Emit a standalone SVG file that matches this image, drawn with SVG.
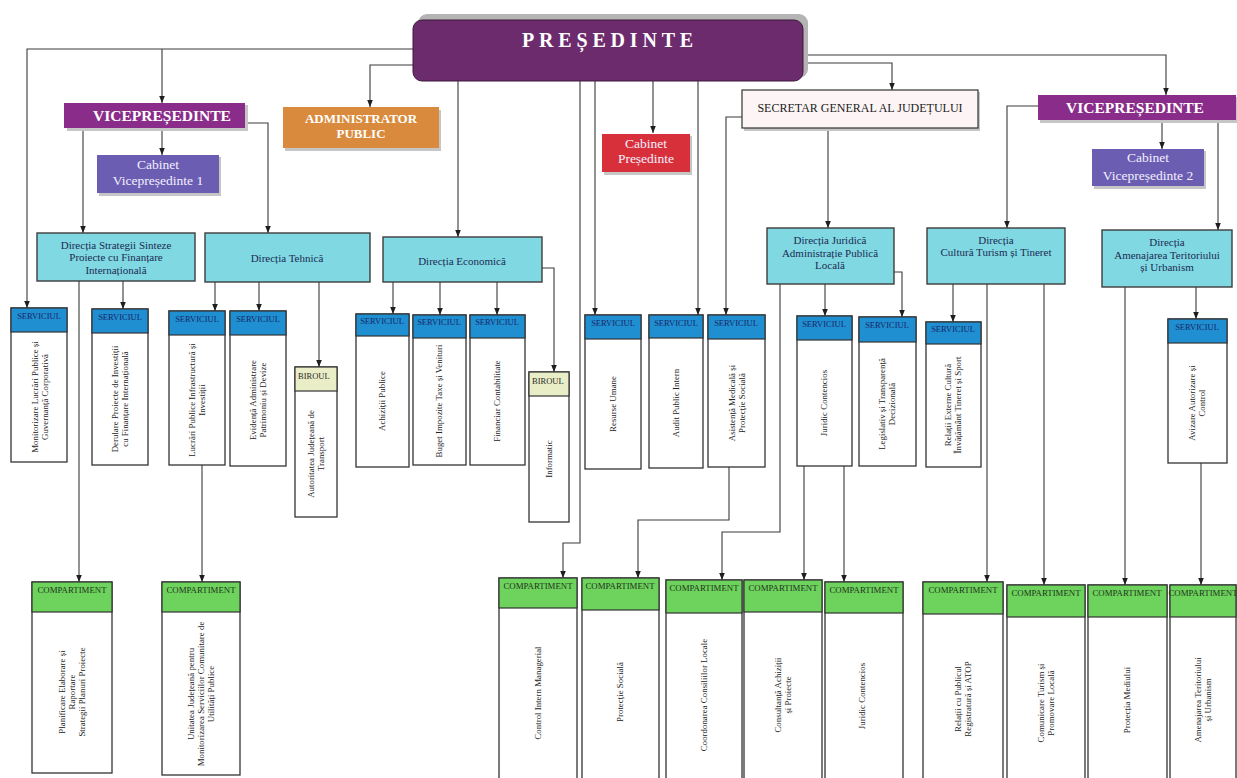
<svg xmlns="http://www.w3.org/2000/svg" width="1237" height="778" viewBox="0 0 1237 778">
<defs>
<marker id="ah" viewBox="0 0 10 10" refX="10" refY="5" markerWidth="7" markerHeight="7" orient="auto" markerUnits="userSpaceOnUse"><path d="M0,1 L10,5 L0,9 z" fill="#1e1e1e"/></marker>
</defs>
<style>
.ln{fill:none;stroke:#3a3a3a;stroke-width:1.1;marker-end:url(#ah)}
.bd{fill:#fff;stroke:#333;stroke-width:1.3}
.hs{fill:#1f8fd2;stroke:#333;stroke-width:1.2}
.hb{fill:#e9eec6;stroke:#333;stroke-width:1.2}
.hc{fill:#6dd35c;stroke:#333;stroke-width:1.2}
.dir{fill:#80d8e3;stroke:#3d3d3d;stroke-width:1.4}
.sh{fill:#c6c6c6}
text{font-family:"Liberation Serif","Times New Roman",serif}
.vt{font-size:8.9px;fill:#222;text-anchor:middle}
.hst{font-size:8.5px;fill:#1a2766;text-anchor:middle}
.hct{font-size:8.8px;fill:#1f3320;text-anchor:middle}
.hbt{font-size:8.5px;fill:#2a2a2a}
.dt{font-size:11px;fill:#1c2b52;text-anchor:middle}
.wt{fill:#fff;font-weight:bold;text-anchor:middle}
.ct{fill:#f4f0ff;font-size:13.5px;text-anchor:middle}
</style>
<rect width="1237" height="778" fill="#fff"/>

<g id="connectors">
<polyline class="ln" points="413,49 27,49 27,308"/>
<polyline class="ln" points="162,49 162,103"/>
<polyline class="ln" points="413,65 370,65 370,107"/>
<polyline class="ln" points="458,81 458,237"/>
<polyline class="ln" points="580,81 580,543 563,543 563,578"/>
<polyline class="ln" points="595,81 595,315"/>
<polyline class="ln" points="653,81 653,133"/>
<polyline class="ln" points="698,81 698,315"/>
<polyline class="ln" points="803,63 892,63 892,90"/>
<polyline class="ln" points="803,55 1166,55 1166,95"/>
<polyline class="ln" points="162,128 162,155"/>
<polyline class="ln" points="83,128 83,233"/>
<polyline class="ln" points="245,123 268,123 268,233"/>
<polyline class="ln" points="742,117 726,117 726,315"/>
<polyline class="ln" points="828,128 828,228"/>
<polyline class="ln" points="1162,120 1162,149"/>
<polyline class="ln" points="1038,106 1007,106 1007,228"/>
<polyline class="ln" points="1218,120 1218,230"/>
<polyline class="ln" points="123,281 123,309"/>
<polyline class="ln" points="79,281 79,582"/>
<polyline class="ln" points="215,282 215,311"/>
<polyline class="ln" points="259,282 259,311"/>
<polyline class="ln" points="319,282 319,367"/>
<polyline class="ln" points="202,465 202,582"/>
<polyline class="ln" points="393,282 393,314"/>
<polyline class="ln" points="440,282 440,315"/>
<polyline class="ln" points="497,282 497,315"/>
<polyline class="ln" points="542,268 554,268 554,372"/>
<polyline class="ln" points="729,467 729,520 638,520 638,578"/>
<polyline class="ln" points="780,284 780,532 722,532 722,580"/>
<polyline class="ln" points="825,284 825,316"/>
<polyline class="ln" points="894,272 902,272 902,317"/>
<polyline class="ln" points="804,466 804,580"/>
<polyline class="ln" points="844,466 844,582"/>
<polyline class="ln" points="953,284 953,322"/>
<polyline class="ln" points="987,284 987,582"/>
<polyline class="ln" points="1044,284 1044,585"/>
<polyline class="ln" points="1125,287 1125,585"/>
<polyline class="ln" points="1196,287 1196,319"/>
<polyline class="ln" points="1201,463 1201,585"/>
</g>

<g id="presedinte">
<rect x="418" y="14" width="390" height="64" rx="9" fill="#b4b4b4"/>
<rect x="413" y="20" width="390" height="61" rx="9" fill="#6c2b6d" stroke="#3a1a3a" stroke-width="1"/>
<text class="wt" x="610" y="47" font-size="20" letter-spacing="4.8">PREȘEDINTE</text>
</g>

<g id="vicepresedinte1">
<rect class="sh" x="67" y="105" width="181" height="26"/>
<rect x="64" y="103" width="181" height="25" fill="#8a2d8a"/>
<text class="wt" x="162" y="121" font-size="15.5">VICEPREȘEDINTE</text>
</g>

<g id="cabinet-vp1">
<rect class="sh" x="99" y="157" width="122" height="39"/>
<rect x="97" y="155" width="122" height="38" fill="#6a5db2"/>
<text class="ct" x="158" y="169">Cabinet</text>
<text class="ct" x="158" y="185">Vicepreședinte 1</text>
</g>

<g id="administrator">
<rect class="sh" x="285" y="110" width="156" height="41"/>
<rect x="283" y="107" width="156" height="41" fill="#d98a3c"/>
<text class="wt" x="361" y="123" font-size="13">ADMINISTRATOR</text>
<text class="wt" x="361" y="138" font-size="13">PUBLIC</text>
</g>

<g id="cabinet-presedinte">
<rect class="sh" x="604" y="136" width="88" height="39"/>
<rect x="602" y="134" width="88" height="38" fill="#d8303b"/>
<text class="ct" x="646" y="148">Cabinet</text>
<text class="ct" x="646" y="163">Președinte</text>
</g>

<g id="secretar">
<rect class="sh" x="744" y="92" width="236" height="39"/>
<rect x="742" y="90" width="236" height="38" fill="#fdf5f5" stroke="#333" stroke-width="1.2"/>
<text x="860" y="112" font-size="12" fill="#1a1a1a" text-anchor="middle">SECRETAR GENERAL AL JUDEȚULUI</text>
</g>

<g id="vicepresedinte2">
<rect class="sh" x="1040" y="97" width="197" height="26"/>
<rect x="1038" y="95" width="198" height="25" fill="#8a2d8a"/>
<text class="wt" x="1135" y="113" font-size="15.5">VICEPREȘEDINTE</text>
</g>

<g id="cabinet-vp2">
<rect class="sh" x="1094" y="151" width="112" height="38"/>
<rect x="1092" y="149" width="112" height="37" fill="#6a5db2"/>
<text class="ct" x="1148" y="162">Cabinet</text>
<text class="ct" x="1148" y="180">Vicepreședinte 2</text>
</g>

<g id="dir-strategii">
<rect class="dir" x="37" y="233" width="158" height="48"/>
<text class="dt" x="116" y="249">Direcția Strategii  Sinteze</text>
<text class="dt" x="116" y="261">Proiecte cu Finanțare</text>
<text class="dt" x="116" y="274">Internațională</text>
</g>

<g id="dir-tehnica">
<rect class="dir" x="205" y="233" width="165" height="49"/>
<text class="dt" x="287" y="262">Direcția Tehnică</text>
</g>

<g id="dir-economica">
<rect class="dir" x="383" y="237" width="159" height="45"/>
<text class="dt" x="462" y="265">Direcția Economică</text>
</g>

<g id="dir-juridica">
<rect class="dir" x="767" y="228" width="127" height="56"/>
<text class="dt" x="830" y="244">Direcția Juridică</text>
<text class="dt" x="830" y="257">Administrație Publică</text>
<text class="dt" x="830" y="269">Locală</text>
</g>

<g id="dir-cultura">
<rect class="dir" x="927" y="228" width="138" height="56"/>
<text class="dt" x="996" y="244">Direcția</text>
<text class="dt" x="996" y="256">Cultură Turism și Tineret</text>
</g>

<g id="dir-amenajarea">
<rect class="dir" x="1102" y="230" width="130" height="57"/>
<text class="dt" x="1167" y="246">Direcția</text>
<text class="dt" x="1167" y="259">Amenajarea Teritoriului</text>
<text class="dt" x="1167" y="271">și Urbanism</text>
</g>

<g id="s-monitorizare">
<rect class="bd" x="11" y="308" width="56" height="154"/>
<rect class="hs" x="11" y="308" width="56" height="24"/>
<text class="hst" x="39" y="319">SERVICIUL</text>
<text class="vt" transform="translate(40,397) rotate(-90)"><tspan x="0" y="-2">Monitorizare Lucrări Publice și</tspan><tspan x="0" y="8">Guvernanță Corporativă</tspan></text>
</g>

<g id="s-derulare">
<rect class="bd" x="92" y="309" width="56" height="156"/>
<rect class="hs" x="92" y="309" width="56" height="24"/>
<text class="hst" x="120" y="320">SERVICIUL</text>
<text class="vt" transform="translate(120,399) rotate(-90)"><tspan x="0" y="-2">Derulare Proiecte de Investiții</tspan><tspan x="0" y="8">cu Finanțare  Internațională</tspan></text>
</g>

<g id="s-lucrari">
<rect class="bd" x="169" y="311" width="56" height="154"/>
<rect class="hs" x="169" y="311" width="56" height="24"/>
<text class="hst" x="197" y="322">SERVICIUL</text>
<text class="vt" transform="translate(197,400) rotate(-90)"><tspan x="0" y="-2">Lucrări Publice Infrastructură și</tspan><tspan x="0" y="8">Investiții</tspan></text>
</g>

<g id="s-evidenta">
<rect class="bd" x="230" y="311" width="56" height="155"/>
<rect class="hs" x="230" y="311" width="56" height="24"/>
<text class="hst" x="258" y="322">SERVICIUL</text>
<text class="vt" transform="translate(258,400) rotate(-90)"><tspan x="0" y="-2">Evidență   Administrare</tspan><tspan x="0" y="8">Patrimoniu și Devize</tspan></text>
</g>

<g id="b-autoritatea">
<rect class="bd" x="295" y="367" width="42" height="150"/>
<rect class="hb" x="295" y="367" width="42" height="24"/>
<text class="hbt" x="298" y="379">BIROUL</text>
<text class="vt" transform="translate(316,454) rotate(-90)"><tspan x="0" y="-2">Autoritatea Județeană de</tspan><tspan x="0" y="8">Transport</tspan></text>
</g>

<g id="s-achizitii">
<rect class="bd" x="356" y="314" width="53" height="153"/>
<rect class="hs" x="356" y="314" width="53" height="22"/>
<text class="hst" x="382" y="324">SERVICIUL</text>
<text class="vt" transform="translate(382,401) rotate(-90)"><tspan x="0" y="3">Achiziții Publice</tspan></text>
</g>

<g id="s-buget">
<rect class="bd" x="413" y="315" width="53" height="150"/>
<rect class="hs" x="413" y="315" width="53" height="23"/>
<text class="hst" x="439" y="325">SERVICIUL</text>
<text class="vt" transform="translate(439,401) rotate(-90)"><tspan x="0" y="3">Buget Impozite Taxe și Venituri</tspan></text>
</g>

<g id="s-financiar">
<rect class="bd" x="470" y="315" width="55" height="150"/>
<rect class="hs" x="470" y="315" width="55" height="23"/>
<text class="hst" x="497" y="325">SERVICIUL</text>
<text class="vt" transform="translate(497,401) rotate(-90)"><tspan x="0" y="3">Financiar Contabilitate</tspan></text>
</g>

<g id="b-informatic">
<rect class="bd" x="529" y="372" width="40" height="150"/>
<rect class="hb" x="529" y="372" width="40" height="24"/>
<text class="hbt" x="532" y="384">BIROUL</text>
<text class="vt" transform="translate(549,459) rotate(-90)"><tspan x="0" y="3">Informatic</tspan></text>
</g>

<g id="s-resurse">
<rect class="bd" x="585" y="315" width="56" height="154"/>
<rect class="hs" x="585" y="315" width="56" height="24"/>
<text class="hst" x="613" y="326">SERVICIUL</text>
<text class="vt" transform="translate(613,404) rotate(-90)"><tspan x="0" y="3">Resurse Umane</tspan></text>
</g>

<g id="s-audit">
<rect class="bd" x="649" y="315" width="54" height="153"/>
<rect class="hs" x="649" y="315" width="54" height="23"/>
<text class="hst" x="676" y="326">SERVICIUL</text>
<text class="vt" transform="translate(676,403) rotate(-90)"><tspan x="0" y="3">Audit Public Intern</tspan></text>
</g>

<g id="s-asistenta">
<rect class="bd" x="708" y="315" width="57" height="152"/>
<rect class="hs" x="708" y="315" width="57" height="24"/>
<text class="hst" x="736" y="326">SERVICIUL</text>
<text class="vt" transform="translate(737,403) rotate(-90)"><tspan x="0" y="-2">Asistență Medicală și</tspan><tspan x="0" y="8">Protecție Socială</tspan></text>
</g>

<g id="s-juridic">
<rect class="bd" x="797" y="316" width="55" height="150"/>
<rect class="hs" x="797" y="316" width="55" height="24"/>
<text class="hst" x="824" y="327">SERVICIUL</text>
<text class="vt" transform="translate(824,403) rotate(-90)"><tspan x="0" y="3">Juridic Contencios</tspan></text>
</g>

<g id="s-legislativ">
<rect class="bd" x="859" y="317" width="57" height="149"/>
<rect class="hs" x="859" y="317" width="57" height="25"/>
<text class="hst" x="887" y="328">SERVICIUL</text>
<text class="vt" transform="translate(887,404) rotate(-90)"><tspan x="0" y="-2">Legislativ și Transparență</tspan><tspan x="0" y="8">Decizională</tspan></text>
</g>

<g id="s-relatii-externe">
<rect class="bd" x="926" y="322" width="55" height="145"/>
<rect class="hs" x="926" y="322" width="55" height="22"/>
<text class="hst" x="953" y="332">SERVICIUL</text>
<text class="vt" transform="translate(953,405) rotate(-90)"><tspan x="0" y="-2">Relații  Externe  Cultură</tspan><tspan x="0" y="8">Învățământ   Tineret și Sport</tspan></text>
</g>

<g id="s-avizare">
<rect class="bd" x="1168" y="319" width="59" height="144"/>
<rect class="hs" x="1168" y="319" width="59" height="24"/>
<text class="hst" x="1197" y="330">SERVICIUL</text>
<text class="vt" transform="translate(1197,403) rotate(-90)"><tspan x="0" y="-2">Avizare Autorizare și</tspan><tspan x="0" y="8">Control</tspan></text>
</g>

<g id="c-planificare">
<rect class="bd" x="32" y="582" width="80" height="191"/>
<rect class="hc" x="32" y="582" width="80" height="30"/>
<text class="hct" x="72" y="593">COMPARTIMENT</text>
<text class="vt" transform="translate(72,692) rotate(-90)"><tspan x="0" y="-7">Planificare Elaborare și</tspan><tspan x="0" y="3">Raportare</tspan><tspan x="0" y="13">Strategii Planuri  Proiecte</tspan></text>
</g>

<g id="c-unitatea">
<rect class="bd" x="162" y="582" width="78" height="193"/>
<rect class="hc" x="162" y="582" width="78" height="30"/>
<text class="hct" x="201" y="593">COMPARTIMENT</text>
<text class="vt" font-size="7.6" transform="translate(201,694) rotate(-90)"><tspan x="0" y="-7">Unitatea Județeană pentru</tspan><tspan x="0" y="3">Monitorizarea Serviciilor Comunitare de</tspan><tspan x="0" y="13">Utilități Publice</tspan></text>
</g>

<g id="c-control">
<rect class="bd" x="499" y="578" width="78" height="210"/>
<rect class="hc" x="499" y="578" width="78" height="30"/>
<text class="hct" x="538" y="589">COMPARTIMENT</text>
<text class="vt" transform="translate(538,693) rotate(-90)"><tspan x="0" y="3">Control Intern Managerial</tspan></text>
</g>

<g id="c-protectie">
<rect class="bd" x="582" y="578" width="77" height="210"/>
<rect class="hc" x="582" y="578" width="77" height="32"/>
<text class="hct" x="620" y="589">COMPARTIMENT</text>
<text class="vt" transform="translate(620,692) rotate(-90)"><tspan x="0" y="3">Protecție Socială</tspan></text>
</g>

<g id="c-coordonarea">
<rect class="bd" x="666" y="580" width="76" height="208"/>
<rect class="hc" x="666" y="580" width="76" height="33"/>
<text class="hct" x="704" y="591">COMPARTIMENT</text>
<text class="vt" transform="translate(704,695) rotate(-90)"><tspan x="0" y="3">Coordonarea Consiliilor Locale</tspan></text>
</g>

<g id="c-consultanta">
<rect class="bd" x="744" y="580" width="78" height="208"/>
<rect class="hc" x="744" y="580" width="78" height="32"/>
<text class="hct" x="783" y="591">COMPARTIMENT</text>
<text class="vt" transform="translate(783,695) rotate(-90)"><tspan x="0" y="-2">Consultanță  Achiziții</tspan><tspan x="0" y="8">și Proiecte</tspan></text>
</g>

<g id="c-juridic">
<rect class="bd" x="825" y="582" width="78" height="206"/>
<rect class="hc" x="825" y="582" width="78" height="31"/>
<text class="hct" x="864" y="593">COMPARTIMENT</text>
<text class="vt" transform="translate(862,696) rotate(-90)"><tspan x="0" y="3">Juridic Contencios</tspan></text>
</g>

<g id="c-relatii-public">
<rect class="bd" x="923" y="582" width="80" height="206"/>
<rect class="hc" x="923" y="582" width="80" height="32"/>
<text class="hct" x="963" y="593">COMPARTIMENT</text>
<text class="vt" transform="translate(963,699) rotate(-90)"><tspan x="0" y="-2">Relații cu Publicul</tspan><tspan x="0" y="8">Registratură și ATOP</tspan></text>
</g>

<g id="c-comunicare">
<rect class="bd" x="1007" y="585" width="78" height="203"/>
<rect class="hc" x="1007" y="585" width="78" height="32"/>
<text class="hct" x="1046" y="596">COMPARTIMENT</text>
<text class="vt" transform="translate(1046,703) rotate(-90)"><tspan x="0" y="-2">Comunicare Turism și</tspan><tspan x="0" y="8">Promovare Locală</tspan></text>
</g>

<g id="c-mediu">
<rect class="bd" x="1088" y="585" width="79" height="203"/>
<rect class="hc" x="1088" y="585" width="79" height="32"/>
<text class="hct" x="1127" y="596">COMPARTIMENT</text>
<text class="vt" transform="translate(1127,700) rotate(-90)"><tspan x="0" y="3">Protecția  Mediului</tspan></text>
</g>

<g id="c-amenajarea">
<rect class="bd" x="1170" y="585" width="66" height="203"/>
<rect class="hc" x="1170" y="585" width="66" height="32"/>
<text class="hct" x="1203" y="596" font-size="7.2">COMPARTIMENT</text>
<text class="vt" transform="translate(1203,700) rotate(-90)"><tspan x="0" y="-2">Amenajarea Teritoriului</tspan><tspan x="0" y="8">și Urbanism</tspan></text>
</g>
</svg>
